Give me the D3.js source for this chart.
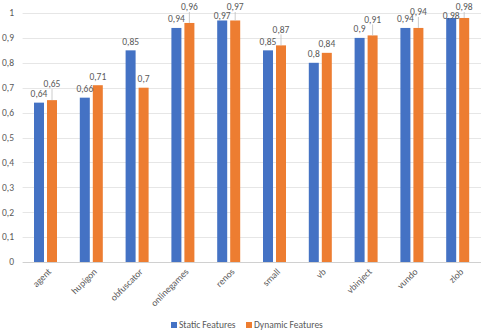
<!DOCTYPE html>
<html>
<head>
<meta charset="utf-8">
<script src="https://cdn.jsdelivr.net/npm/d3@7"></script>
<style>
  body { margin: 0; background: #fff; }
  text { font-family: Carlito, Calibri, "Open Sans", sans-serif; fill: #595959; }
</style>
</head>
<body>
<div id="chart"></div>
<script>
// Data
const categories = ["agent", "hupigon", "obfuscator", "onlinegames", "renos", "small", "vb", "vbinject", "vundo", "zlob"];
const staticValues = [0.64, 0.66, 0.85, 0.94, 0.97, 0.85, 0.80, 0.90, 0.94, 0.98];
const dynamicValues = [0.65, 0.71, 0.70, 0.96, 0.97, 0.87, 0.84, 0.91, 0.94, 0.98];
const seriesNames = ["Static Features", "Dynamic Features"];
const yTicks = [0, 0.1, 0.2, 0.3, 0.4, 0.5, 0.6, 0.7, 0.8, 0.9, 1];

const width = 486, height = 333;
const margin = { top: 13, right: 5, bottom: 71, left: 22.6 };
const colors = ["#4472C4", "#ED7D31"];

const svg = d3.select("#chart").append("svg")
    .attr("width", width)
    .attr("height", height);

// Scales
const x = d3.scaleBand()
    .domain(categories)
    .range([margin.left, width - margin.right - 0.4])
    .paddingInner(0)
    .paddingOuter(0);

const y = d3.scaleLinear()
    .domain([0, 1])
    .range([height - margin.bottom, margin.top]);

const barW = 10, barGap = 3;
const fmt = v => String(+v.toFixed(2)).replace(".", ",");

// Gridlines
svg.append("g")
    .selectAll("line")
    .data(yTicks)
    .join("line")
    .attr("x1", margin.left)
    .attr("x2", width - margin.right)
    .attr("y1", d => Math.round(y(d)) + 0.5)
    .attr("y2", d => Math.round(y(d)) + 0.5)
    .attr("stroke", d => d === 0 ? "#d0d0d0" : "#e6e6e6")
    .attr("stroke-width", 1);

// Y tick labels
svg.append("g")
    .selectAll("text")
    .data(yTicks)
    .join("text")
    .attr("x", 14)
    .attr("y", d => y(d))
    .attr("dy", "0.35em")
    .attr("text-anchor", "end")
    .style("font-size", "9.5px")
    .text(d => d === 0 ? "0" : fmt(d));

// Build rows for the bars
const rows = categories.map((c, i) => ({ cat: c, vals: [staticValues[i], dynamicValues[i]] }));

const groups = svg.append("g")
    .selectAll("g")
    .data(rows)
    .join("g")
    .attr("transform", d => `translate(${x(d.cat) + x.bandwidth() / 2},0)`);

// Bars
groups.selectAll("rect")
    .data(d => d.vals.map((v, k) => ({ v, k })))
    .join("rect")
    .attr("x", d => d.k === 0 ? -barW - barGap / 2 : barGap / 2)
    .attr("y", d => y(d.v))
    .attr("width", barW)
    .attr("height", d => y(0) - y(d.v))
    .attr("fill", d => colors[d.k]);

// Data labels (orange label raised with a leader line when close to the blue one)
groups.each(function (d) {
    const g = d3.select(this);
    const [s, dy] = d.vals;
    const blueX = -barW / 2 - barGap / 2;
    const orX = barW / 2 + barGap / 2;
    const blueY = Math.max(y(s) - 9, 16);
    g.append("text")
        .attr("x", blueX)
        .attr("y", blueY)
        .attr("dy", "0.35em")
        .attr("text-anchor", "middle")
        .style("font-size", "9.5px")
        .text(fmt(s));

    const close = Math.abs(dy - s) <= 0.021;
    let orY = close ? Math.max(y(dy) - 16, 7) : y(dy) - 9;
    if (close) {
        g.append("line")
            .attr("x1", orX)
            .attr("x2", orX)
            .attr("y1", orY + 5)
            .attr("y2", y(dy))
            .attr("stroke", "#bfbfbf")
            .attr("stroke-width", 0.8);
    }
    g.append("text")
        .attr("x", orX)
        .attr("y", orY)
        .attr("dy", "0.35em")
        .attr("text-anchor", "middle")
        .style("font-size", "9.5px")
        .text(fmt(dy));
});

// X labels, rotated
svg.append("g")
    .selectAll("text")
    .data(categories)
    .join("text")
    .attr("transform", d => `translate(${x(d) + x.bandwidth() / 2 + 4},${y(0) + 8}) rotate(-45)`)
    .attr("text-anchor", "end")
    .attr("dy", "0.35em")
    .style("font-size", "9.5px")
    .text(d => d);

// Legend
const legend = svg.append("g").attr("transform", "translate(171,325)");
const legendX = [0, 75];
seriesNames.forEach((name, k) => {
    const item = legend.append("g").attr("transform", `translate(${legendX[k]},0)`);
    item.append("rect")
        .attr("x", 0)
        .attr("y", -3)
        .attr("width", 6)
        .attr("height", 6)
        .attr("fill", colors[k]);
    item.append("text")
        .attr("x", 8)
        .attr("y", 0)
        .attr("dy", "0.35em")
        .style("font-size", "9.5px")
        .text(name);
});
</script>
</body>
</html>
